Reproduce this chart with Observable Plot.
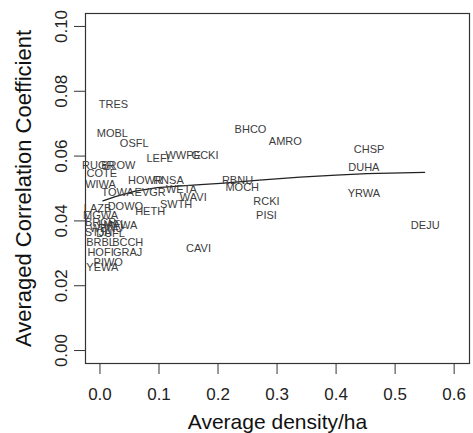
<!DOCTYPE html>
<html>
<head>
<meta charset="utf-8">
<script src="https://cdn.jsdelivr.net/npm/d3@7"></script>
<script src="https://cdn.jsdelivr.net/npm/@observablehq/plot@0.6"></script>
<style>
  html, body { margin: 0; padding: 0; background: #fff; }
  #chart svg { display: block; }
</style>
</head>
<body>
<div id="chart"></div>
<script>
// species codes, average density/ha, averaged correlation coefficient
const species = ["TRES","MOBL","OSFL","LEFL","WWPE","GCKI","BHCO","AMRO","CHSP","DUHA",
  "YRWA","DEJU","RCKI","PISI","RBNU","MOCH","CAVI","RUGR","BROW","COTE",
  "WIWA","HOWR","RNSA","TOWA","EVGR","WETA","WAVI","SWTH","LAZB","DOWO",
  "HETH","MGWA","BRCR","HAFL","WBNU","STJA","MAWA","BRBL","BCCH","HOFI",
  "GRAJ","PIWO","YEWA","DUFL"];
const density = [0.023,0.021,0.058,0.101,0.141,0.178,0.255,0.314,0.456,0.447,
  0.447,0.551,0.282,0.282,0.233,0.241,0.167,-0.003,0.031,0.003,
  0.001,0.077,0.116,0.030,0.085,0.138,0.158,0.129,-0.004,0.043,
  0.085,0.001,0.001,0.021,0.011,-0.003,0.035,0.001,0.047,0.001,
  0.047,0.014,0.004,0.018];
const corr = [0.0759,0.0671,0.0638,0.0594,0.0602,0.0602,0.0682,0.0645,0.0620,0.0565,
  0.0485,0.0386,0.0461,0.0417,0.0525,0.0503,0.0315,0.0571,0.0571,0.0546,
  0.0512,0.0525,0.0525,0.0488,0.0488,0.0497,0.0472,0.0451,0.0438,0.0444,
  0.0429,0.0417,0.0395,0.0389,0.0377,0.0364,0.0385,0.0333,0.0333,0.0302,
  0.0302,0.0272,0.0256,0.0360];
// fitted curve
const fitX = [0.005,0.026,0.060,0.097,0.170,0.204,0.270,0.339,0.400,0.452,0.550];
const fitY = [0.0462,0.0475,0.0492,0.0503,0.0512,0.0516,0.0526,0.0535,0.0541,0.0546,0.0550];
const xTicks = [0,0.1,0.2,0.3,0.4,0.5,0.6];
const yTicks = [0,0.02,0.04,0.06,0.08,0.10];
const xTitle = "Average density/ha";
const yTitle = "Averaged Correlation Coefficient";

const pts = species.map((s,i) => ({s, x: density[i], y: corr[i]}));
const fit = fitX.map((x,i) => ({x, y: fitY[i]}));
const font = "Liberation Sans, Arial, Helvetica, sans-serif";

const chart = Plot.plot({
  width: 473,
  height: 433,
  marginLeft: 85,
  marginRight: 4,
  marginTop: 13,
  marginBottom: 70,
  style: {fontFamily: font, background: "#fff", color: "#222"},
  x: {domain: [-0.0245, 0.626]},
  y: {domain: [-0.004, 0.104]},
  marks: [
    Plot.frame({stroke: "#333", strokeWidth: 1.2}),
    Plot.axisX({ticks: xTicks, tickFormat: d3.format(".1f"), tickSize: 11, tickPadding: 13,
      fontSize: 17, label: null, stroke: "#333", fill: "#222"}),
    Plot.axisY({ticks: yTicks, tickFormat: () => "", tickSize: 11, label: null, stroke: "#333"}),
    Plot.text(yTicks, {y: d => d, text: d3.format(".2f"), frameAnchor: "left", dx: -24,
      rotate: -90, textAnchor: "middle", lineAnchor: "middle", fontSize: 17, fill: "#222"}),
    Plot.text([xTitle], {frameAnchor: "bottom", dy: 59, textAnchor: "middle", lineAnchor: "middle",
      fontSize: 21, fill: "#111"}),
    Plot.text([yTitle], {frameAnchor: "left", dx: -62, rotate: -90, textAnchor: "middle",
      lineAnchor: "middle", fontSize: 22, fill: "#111"}),
    Plot.line(fit, {x: "x", y: "y", stroke: "#222", strokeWidth: 1.3}),
    Plot.text(pts, {x: "x", y: "y", text: "s", fontSize: 11, fill: "#3c3c3c"})
  ]
});
document.getElementById("chart").appendChild(chart);
</script>
</body>
</html>
